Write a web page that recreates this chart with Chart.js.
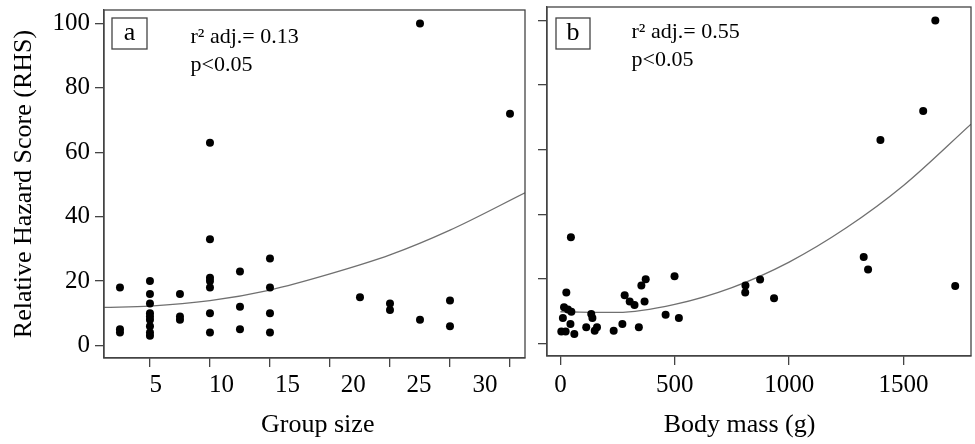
<!DOCTYPE html>
<html>
<head>
<meta charset="utf-8">
<script src="https://cdn.jsdelivr.net/npm/chart.js@4/dist/chart.umd.min.js"></script>
<style>
  body { margin: 0; background: #fff; }
  .panel { position: absolute; top: 0; }
</style>
</head>
<body>
<div class="panel" style="left:0"><canvas id="chartA" width="535" height="444"></canvas></div>
<div class="panel" style="left:535px"><canvas id="chartB" width="440" height="444"></canvas></div>
<script>
// Panel a: RHS vs group size
const groupSize = [2.5, 2.5, 2.5,
  5, 5, 5, 5, 5, 5, 5, 5, 5,
  7.5, 7.5, 7.5,
  10, 10, 10, 10, 10, 10, 10,
  12.5, 12.5, 12.5,
  15, 15, 15, 15,
  22.5, 25, 25, 27.5, 27.5, 30, 30, 35];
const rhsA = [18, 5, 4,
  20, 16, 13, 10, 9, 8, 6, 4, 3,
  16, 9, 8,
  63, 33, 21, 20, 18, 10, 4,
  23, 12, 5,
  27, 18, 10, 4,
  15, 13, 11, 100, 8, 14, 6, 72];
// fitted curve
const fitXA = [1.17, 5, 10, 15, 20, 25, 30, 36.25];
const fitYA = [11.8, 12.2, 13.9, 17.2, 22.2, 28.1, 35.8, 47.4];

// Panel b: RHS vs body mass
const bodyMass = [4, 23, 61, 11, 44, 16, 33, 48, 26, 46,
  135, 140, 113, 150, 160, 233, 271, 281, 303, 324,
  343, 354, 373, 368, 460, 499, 518, 809, 808, 873,
  934, 1326, 1345, 1726, 1399, 1586, 1639];
const rhsB = [3.7, 3.7, 2.9, 7.9, 6.0, 11.2, 10.5, 9.8, 15.8, 32.9,
  9.1, 7.9, 5.0, 3.9, 5.0, 3.9, 6.0, 14.9, 13.0, 11.9,
  5.0, 17.9, 19.9, 13.0, 8.9, 20.8, 7.9, 17.9, 15.8, 19.8,
  14.0, 26.8, 22.9, 17.8, 63, 72, 100];
const fitXB = [0, 250, 500, 750, 1000, 1250, 1500, 1795];
const fitYB = [9.8, 9.6, 12.1, 17.3, 25.2, 35.8, 48.9, 67.9];

// ticks
const yTicks = [0, 20, 40, 60, 80, 100];
const xTicksA = [5, 10, 15, 20, 25, 30, 35];
const xLabelsA = [5, 10, 15, 20, 25, 30];
const xTicksB = [0, 500, 1000, 1500];

Chart.defaults.font.family = '"Liberation Serif", "Times New Roman", serif';
Chart.defaults.color = '#000';

const AXIS = '#444';

const toPts = (xs, ys) => xs.map((x, i) => ({ x: x, y: ys[i] }));
const setTicks = vals => axis => { axis.ticks = vals.map(v => ({ value: v })); };
const fixSize = (w, h) => axis => {
  if (w != null) axis.width = w;
  if (h != null) axis.height = h;
  axis.paddingTop = axis.paddingBottom = axis.paddingLeft = axis.paddingRight = 0;
};
const plain = v => String(v);
const tickGrid = { display: true, drawOnChartArea: false, drawTicks: true, tickLength: 9, color: AXIS, lineWidth: 1.3 };
const border = { display: true, color: AXIS, width: 1.3 };

const panelNotes = {
  id: 'panelNotes',
  afterDraw(chart, args, o) {
    const { ctx, chartArea: a } = chart;
    ctx.save();
    ctx.strokeStyle = AXIS;
    ctx.lineWidth = 1.3;
    ctx.strokeRect(a.left, a.top, a.right - a.left, a.bottom - a.top);
    ctx.strokeRect(a.left + o.box.x, a.top + o.box.y, o.box.w, o.box.h);
    ctx.fillStyle = '#000';
    ctx.font = '26px "Liberation Serif"';
    ctx.textAlign = 'center';
    ctx.textBaseline = 'middle';
    ctx.fillText(o.letter, a.left + o.box.x + o.box.w / 2, a.top + o.box.y + o.box.h / 2);
    ctx.font = '22px "Liberation Serif"';
    ctx.textAlign = 'left';
    ctx.textBaseline = 'alphabetic';
    o.lines.forEach((t, i) => ctx.fillText(t, a.left + o.text.x, a.top + o.text.y + i * 28));
    ctx.restore();
  }
};

function datasets(xs, ys, fx, fy) {
  return [
    { data: toPts(xs, ys), backgroundColor: '#000', borderWidth: 0, pointRadius: 4 },
    { data: toPts(fx, fy), showLine: true, pointRadius: 0, borderColor: '#707070',
      borderWidth: 1.3, cubicInterpolationMode: 'monotone', fill: false }
  ];
}

const yAxis = {
  min: -3.9, max: 104.2,
  afterBuildTicks: setTicks(yTicks),
  grid: tickGrid, border: border
};

new Chart(document.getElementById('chartA'), {
  type: 'scatter',
  data: { datasets: datasets(groupSize, rhsA, fitXA, fitYA) },
  options: {
    responsive: false, animation: false, events: [],
    layout: { padding: { left: 0, top: 10, right: 10, bottom: 0 } },
    plugins: {
      legend: { display: false }, tooltip: { enabled: false },
      panelNotes: { letter: 'a', box: { x: 8, y: 8, w: 35, h: 31 },
        text: { x: 86.5, y: 32.5 }, lines: ['r\u00b2 adj.= 0.13', 'p<0.05'] }
    },
    scales: {
      x: {
        type: 'linear', min: 1.17, max: 36.25,
        afterBuildTicks: setTicks(xTicksA), afterFit: fixSize(null, 9),
        grid: tickGrid, border: border, ticks: { display: false }
      },
      xl: {
        type: 'linear', position: 'bottom', weight: 1, min: 1.07, max: 33.04,
        afterBuildTicks: setTicks(xLabelsA), afterFit: fixSize(null, 77),
        grid: { display: false, drawTicks: false }, border: { display: false },
        ticks: { padding: 3, font: { size: 25 }, callback: plain },
        title: { display: true, text: '\u00a0Group size', font: { size: 26 }, padding: { top: 0, bottom: 3 } }
      },
      y: Object.assign({}, yAxis, {
        afterFit: fixSize(104, null),
        ticks: { padding: 5, font: { size: 25 }, callback: plain },
        title: { display: true, text: 'Relative Hazard Score (RHS)', font: { size: 26 }, padding: { top: 9, bottom: 0 } }
      })
    }
  },
  plugins: [panelNotes]
});

new Chart(document.getElementById('chartB'), {
  type: 'scatter',
  data: { datasets: datasets(bodyMass, rhsB, fitXB, fitYB) },
  options: {
    responsive: false, animation: false, events: [],
    layout: { padding: { left: 0, top: 7, right: 3, bottom: 0 } },
    plugins: {
      legend: { display: false }, tooltip: { enabled: false },
      panelNotes: { letter: 'b', box: { x: 9, y: 11, w: 34, h: 31 },
        text: { x: 84.5, y: 31 }, lines: ['r\u00b2 adj.= 0.55', 'p<0.05'] }
    },
    scales: {
      x: {
        type: 'linear', min: -58.5, max: 1795,
        afterBuildTicks: setTicks(xTicksB), afterFit: fixSize(null, 88),
        grid: tickGrid, border: border,
        ticks: { padding: 5, font: { size: 25 }, callback: plain },
        title: { display: true, text: 'Body mass (g)\u00a0\u00a0\u00a0\u00a0\u00a0\u00a0', font: { size: 26 }, padding: { top: 0, bottom: 3 } }
      },
      y: Object.assign({}, yAxis, {
        afterFit: fixSize(12, null),
        ticks: { display: false }
      })
    }
  },
  plugins: [panelNotes]
});
</script>
</body>
</html>
